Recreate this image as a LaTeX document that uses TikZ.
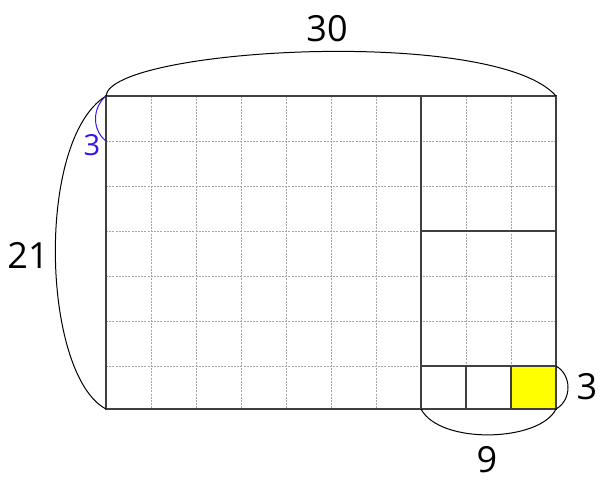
\documentclass[tikz,border=0pt]{standalone}
\usepackage{fontspec}
\setmainfont{Open Sans}
\definecolor{bluethree}{HTML}{3A10F0}
\definecolor{framegray}{HTML}{404040}
\definecolor{yellowsq}{HTML}{FFFF00}
\tikzset{
  gridln/.style={draw=gray!70, line width=0.9pt, dash pattern=on 2pt off 1.2pt},
  frameln/.style={draw=framegray, line width=2.4pt, line cap=rect},
  arcln/.style={draw=black, line width=1pt},
  bluearc/.style={draw=bluethree, line width=1pt},
  lbl/.style={font=\fontsize{36}{40}\selectfont, text=black, inner sep=0pt},
  bluelbl/.style={font=\fontsize{29}{32}\selectfont, text=bluethree, inner sep=0pt},
}
\begin{document}
\begin{tikzpicture}[x=1pt,y=-1pt]
\useasboundingbox (0,0) rectangle (603,490);
% corner points
\coordinate (A) at (106,96);
\coordinate (B) at (421,96);
\coordinate (C) at (556,96);
\coordinate (D) at (106,409);
\coordinate (E) at (421,409);
\coordinate (F) at (556,409);
\coordinate (G) at (421,231);
\coordinate (H) at (556,231);
\coordinate (I) at (421,366);
\coordinate (J) at (556,366);
\coordinate (K) at (466,366);
\coordinate (L) at (466,409);
\coordinate (M) at (511,366);
\coordinate (N) at (511,409);
\coordinate (P) at (106,141);
% dashed grid
\foreach \x in {151,196,...,511} \draw[gridln] (\x,96) -- (\x,409);
\foreach \y in {141,186,...,366} \draw[gridln] (106,\y) -- (556,\y);
% yellow square
\fill[yellowsq] (M) rectangle (F);
% solid frames
\draw[frameln] (A) rectangle (F);
\draw[frameln] (B) -- (E);
\draw[frameln] (G) -- (H);
\draw[frameln] (I) -- (J);
\draw[frameln] (K) -- (L);
\draw[frameln] (M) -- (N);
% measurement arcs
\draw[arcln] (A) .. controls (110,48) and (495,26) .. (C);
\draw[arcln] (A) .. controls (35,140) and (42,375) .. (D);
\draw[arcln] (E) .. controls (440,445) and (540,442) .. (F);
\draw[arcln] (J) .. controls (572,375) and (572,400) .. (F);
\draw[bluearc] (A) .. controls (92,108) and (92,130) .. (P);
% labels
\node[lbl] (l30) at (327,29) {30};
\node[lbl] (l21) at (28,255) {21};
\node[lbl] (l9) at (487,460) {9};
\node[lbl] (l3) at (587,387) {3};
\node[bluelbl] (lb3) at (92,145) {3};
\end{tikzpicture}
\end{document}
